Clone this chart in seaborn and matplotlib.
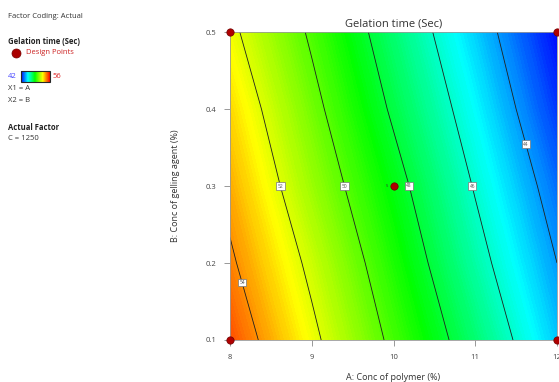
import numpy as np
import matplotlib
matplotlib.use("Agg")
import matplotlib.pyplot as plt
import seaborn as sns
from matplotlib.colors import LinearSegmentedColormap, Normalize
from matplotlib.cm import ScalarMappable
from matplotlib.lines import Line2D

# Factor levels (actual units)
conc_polymer = [8, 9, 10, 11, 12]
conc_gelling = [0.1, 0.2, 0.3, 0.4, 0.5]

# Gelation time (Sec), rows = gelling agent, cols = polymer
gel_b01 = [54.9, 52.3, 49.7, 47.2, 44.6]
gel_b02 = [54.2, 51.7, 49.1, 46.5, 44.0]
gel_b03 = [53.6, 51.0, 48.5, 45.9, 43.4]
gel_b04 = [53.0, 50.4, 47.8, 45.3, 42.7]
gel_b05 = [52.3, 49.8, 47.2, 44.7, 42.1]

contour_levels = [44, 46, 48, 50, 52, 54]
label_spots = [(11.62, 0.354), (10.98, 0.30), (10.19, 0.30), (9.40, 0.30), (8.62, 0.30), (8.06, 0.172)]

# Design points
design_a = [8, 8, 12, 12, 10]
design_b = [0.1, 0.5, 0.1, 0.5, 0.3]

sns.set_style("white")
plt.rcParams['font.family'] = ['Open Sans', 'DejaVu Sans']

cmap = LinearSegmentedColormap.from_list(
    "de", [(0.0, "#0000ff"), (0.236, "#00ffff"), (0.48, "#00ff00"),
           (0.75, "#ffff00"), (1.0, "#ff0000")])

fig = plt.figure(figsize=(5.59, 3.82), dpi=100)
ax = fig.add_axes([230 / 559, 1 - 340 / 382, 327 / 559, 308 / 382])

A, B = np.meshgrid(conc_polymer, conc_gelling)
G = np.array([gel_b01, gel_b02, gel_b03, gel_b04, gel_b05])

ax.contourf(A, B, G, levels=np.linspace(41, 57, 161), cmap=cmap, vmin=42, vmax=56)
cs = ax.contour(A, B, G, levels=contour_levels, colors="#202020", linewidths=0.6)
labels = ax.clabel(cs, fmt="%d", fontsize=3.5, inline=False, manual=label_spots)
for t in labels:
    t.set_rotation(0)
    t.set_color("#555555")
    t.set_bbox(dict(boxstyle="square,pad=0.3", fc="white", ec="#777777", lw=0.5))

sns.scatterplot(x=design_a, y=design_b, ax=ax, color="#b00000", edgecolor="#700000",
                s=28, linewidth=0.5, clip_on=False, zorder=5, legend=False)
ax.text(9.93, 0.3, "5", fontsize=3, color="#333333", ha="right", va="center")

ax.set_xlim(8, 12)
ax.set_ylim(0.1, 0.5)
ax.set_xticks([8, 9, 10, 11, 12])
ax.set_yticks([0.1, 0.2, 0.3, 0.4, 0.5])
ax.set_xticklabels(["8", "9", "10", "11", "12"])
ax.set_yticklabels(["0.1", "0.2", "0.3", "0.4", "0.5"])
ax.tick_params(axis="both", direction="out", length=4, width=0.6, color="#888888",
               labelsize=5.5, labelcolor="#444444", pad=6, bottom=True, left=True)
for sp in ax.spines.values():
    sp.set_color("#999999")
    sp.set_linewidth(0.6)

ax.set_title("Gelation time (Sec)", fontsize=8, color="#333333", pad=4)
ax.set_xlabel("A: Conc of polymer (%)", fontsize=6.5, color="#333333", labelpad=9)
ax.set_ylabel("B: Conc of gelling agent (%)", fontsize=6.5, color="#333333", labelpad=18)

# Left info panel
def px(x, y):
    return x / 559, 1 - y / 382

fig.text(*px(8, 16), "Factor Coding: Actual", fontsize=5.5, color="#333333", va="center")
fig.text(*px(8, 41), "Gelation time (Sec)", fontsize=5.5, color="#222222", weight="bold", va="center")
fig.text(*px(26, 53), "Design Points", fontsize=5.5, color="#cc2222", va="center")
fig.add_artist(Line2D([16 / 559], [1 - 53 / 382], transform=fig.transFigure, marker="o",
                      markersize=6.5, color="#aa0000", markeredgecolor="#770000", markeredgewidth=0.5))
fig.text(*px(8, 76), "42", fontsize=5.5, color="#4444ff", va="center")
fig.text(*px(53, 76), "56", fontsize=5.5, color="#dd2222", va="center")
cax = fig.add_axes([21 / 559, 1 - 82 / 382, 29 / 559, 11 / 382])
fig.colorbar(ScalarMappable(norm=Normalize(42, 56), cmap=cmap), cax=cax, orientation="horizontal")
cax.set_xticks([])
cax.set_yticks([])
fig.text(*px(8, 89), "X1 = A", fontsize=5.5, color="#333333", va="center")
fig.text(*px(8, 101), "X2 = B", fontsize=5.5, color="#333333", va="center")
fig.text(*px(8, 127), "Actual Factor", fontsize=5.5, color="#222222", weight="bold", va="center")
fig.text(*px(8, 139), "C = 1250", fontsize=5.5, color="#333333", va="center")

fig.savefig("out.png", dpi=100)
